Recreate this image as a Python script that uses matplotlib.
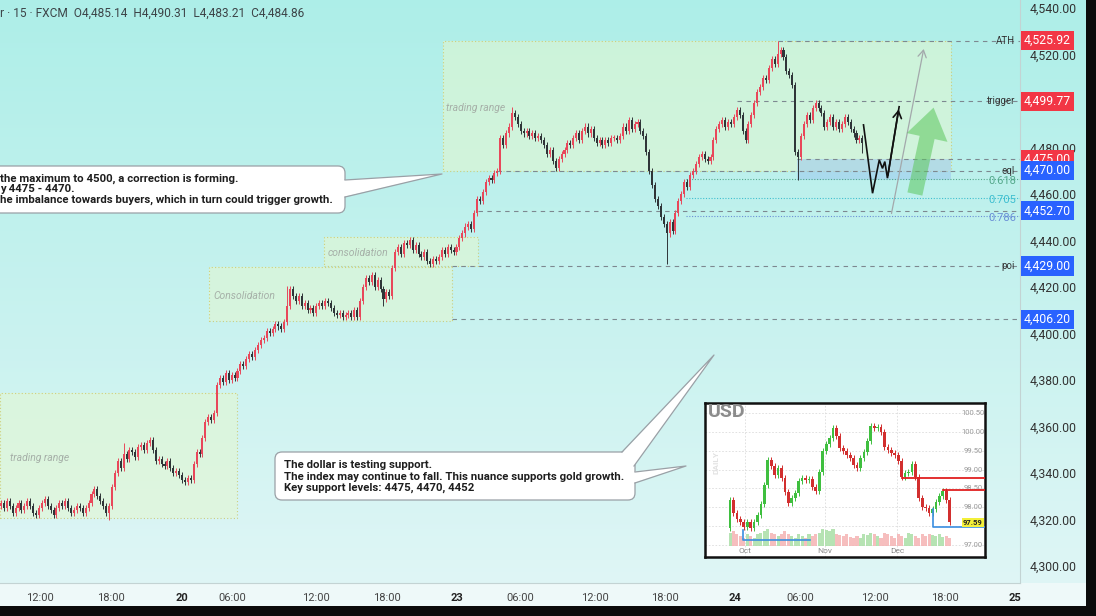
import numpy as np
import matplotlib
matplotlib.use('Agg')
import matplotlib.pyplot as plt
from matplotlib.patches import Rectangle, FancyBboxPatch, Polygon
import matplotlib.transforms as mtransforms

plt.rcParams['font.family'] = ['Roboto', 'DejaVu Sans']

# ---------------- data: XAUUSD 15m ----------------
first_open = 4326.0
closes = [
    4327, 4325, 4328, 4326, 4323, 4325, 4327, 4324, 4326, 4328,
    4326, 4323, 4322, 4325, 4327, 4329, 4326, 4324, 4322, 4325,
    4327, 4326, 4328, 4325, 4323, 4324, 4326, 4325, 4323, 4325,
    4327, 4331, 4333, 4330, 4328, 4326, 4323, 4326, 4334, 4340,
    4345, 4342, 4348, 4346, 4350, 4349, 4347, 4351, 4352, 4350,
    4353, 4354, 4350, 4345, 4346, 4344, 4343, 4345, 4342, 4340,
    4341, 4339, 4337, 4336, 4338, 4337, 4344, 4349, 4348, 4355,
    4362, 4364, 4363, 4366, 4378, 4381, 4379, 4383, 4380, 4382,
    4381, 4384, 4387, 4386, 4389, 4391, 4390, 4393, 4395, 4397,
    4398, 4401, 4400, 4402, 4404, 4403, 4402, 4405, 4412, 4419,
    4416, 4414, 4416, 4412, 4413, 4410, 4411, 4409, 4412, 4413,
    4412, 4414, 4413, 4411, 4409, 4408, 4409, 4407, 4408, 4409,
    4407, 4410, 4407, 4414, 4420, 4424, 4422, 4425, 4420, 4423,
    4419, 4415, 4418, 4416, 4428, 4435, 4437, 4434, 4439, 4438,
    4440, 4436, 4438, 4434, 4433, 4435, 4431, 4430, 4432, 4431,
    4433, 4436, 4434, 4437, 4436, 4435, 4437, 4441, 4443, 4446,
    4447, 4445, 4452, 4458, 4457, 4461, 4465, 4467, 4466, 4469,
    4470, 4484, 4481, 4486, 4489, 4495, 4493, 4490, 4487, 4486,
    4487, 4485, 4486, 4484, 4485, 4483, 4481, 4477, 4479, 4474,
    4471, 4475, 4477, 4479, 4482, 4481, 4484, 4486, 4483, 4487,
    4489, 4486, 4488, 4484, 4482, 4483, 4481, 4483, 4482, 4484,
    4484, 4483, 4485, 4489, 4487, 4492, 4488, 4490, 4491, 4487,
    4485, 4478, 4470, 4464, 4458, 4455, 4450, 4447, 4443, 4448,
    4444, 4452, 4457, 4460, 4465, 4463, 4468, 4470, 4473, 4476,
    4477, 4475, 4474, 4476, 4483, 4488, 4490, 4492, 4489, 4491,
    4490, 4493, 4496, 4494, 4487, 4483, 4490, 4494, 4499, 4504,
    4506, 4510, 4509, 4514, 4518, 4516, 4520, 4522, 4519, 4513,
    4511, 4507, 4478, 4476, 4485, 4490, 4494, 4492, 4497, 4499,
    4497, 4495, 4489, 4491, 4493, 4489, 4491, 4488, 4490, 4493,
    4491, 4488, 4486, 4483, 4484, 4482,
]
wick_highs = {42: 4353.0, 98: 4420.5, 175: 4497.5, 266: 4525.92}
wick_lows = {37: 4320.0, 131: 4412.0, 228: 4430.0, 273: 4466.0, 295: 4477.6}

tick_pos = [13.4, 37.7, 62.0, 79.1, 107.9, 132.2, 156.2, 177.7, 203.4, 227.4,
            251.4, 273.6, 299.3, 323.3, 347.3]
tick_labels = ['12:00', '18:00', '20', '06:00', '12:00', '18:00', '23', '06:00',
               '12:00', '18:00', '24', '06:00', '12:00', '18:00', '25']
bold_ticks = {'20', '23', '24', '25'}
# 4,500.00 sits fully behind the "trigger" price tag in the reference
y_ticks = [4300, 4320, 4340, 4360, 4380, 4400, 4420, 4440, 4460, 4480, 4520, 4540]

# level lines: (price, start bar, name)
level_prices = [4525.92, 4499.77, 4475.00, 4470.00, 4452.70, 4429.00, 4406.20]
level_starts = [266, 252, 272.6, 170, 163.4, 154.5, 154.5]
level_names = ['ATH', 'trigger', '', 'eql', '', 'poi', '']
level_tag_colors = ['#f23645', '#f23645', '#f23645', '#2962ff', '#2962ff', '#2962ff', '#2962ff']

fib_labels = ['0.618', '0.705', '0.786']
fib_prices = [4466.6, 4458.3, 4450.5]
fib_start = 234.5
fib_colors = ['#55a98c', '#3fbfd0', '#6a8fd6']

# zones
zone_x0 = [-0.34, 71.2, 110.6, 151.4]
zone_x1 = [80.8, 154.5, 163.4, 325.3]
zone_y0 = [4320.6, 4405.4, 4429.0, 4469.9]
zone_y1 = [4374.4, 4428.6, 4441.5, 4525.8]
zone_labels = ['trading range', 'Consolidation', 'consolidation', 'trading range']
zone_label_x = [3.1, 72.6, 112.0, 152.4]
zone_label_y = [4346.5, 4416.1, 4434.6, 4497.0]
blue_zone = (272.6, 325.3, 4466.0, 4475.0)

# projected path
path_x = [295.4, 298.5, 300.8, 301.9, 302.7, 303.6, 307.6]
path_y = [4489.7, 4460.3, 4474.6, 4471.0, 4473.9, 4466.8, 4497.5]
gray_arrow = ((304.8, 4450.4), (316.2, 4523.5))
green_arrow = ((312.8, 4458.8), (319.6, 4498.3))

# ---------------- inset data: USD index daily ----------------
usd_first_open = 97.45
usd_closes = [98.20, 97.85, 97.70, 97.60, 97.48, 97.60, 97.45, 97.62, 97.80, 98.10,
              98.60, 99.25, 99.10, 98.85, 99.05, 98.78, 98.40, 98.12, 98.25, 98.38,
              98.70, 98.78, 98.72, 98.75, 98.55, 98.42, 98.95, 99.50, 99.68, 99.85,
              100.10, 99.90, 99.58, 99.50, 99.38, 99.30, 99.12, 99.05, 99.30, 99.48,
              99.75, 100.15, 100.10, 100.12, 100.00, 99.60, 99.52, 99.45, 99.38, 99.22,
              98.80, 98.90, 98.95, 99.15, 98.80, 98.25, 98.00, 97.98, 97.85, 97.95,
              98.15, 98.30, 98.42, 98.20, 97.62]
usd_vol = [0.35, 0.40, 0.30, 0.25, 0.20, 0.30, 0.25, 0.20, 0.30, 0.35,
           0.40, 0.45, 0.35, 0.30, 0.25, 0.30, 0.40, 0.30, 0.25, 0.20,
           0.30, 0.25, 0.20, 0.30, 0.25, 0.30, 0.35, 0.45, 0.42, 0.40,
           0.45, 0.30, 0.28, 0.25, 0.30, 0.22, 0.20, 0.25, 0.20, 0.30,
           0.28, 0.35, 0.30, 0.25, 0.20, 0.35, 0.30, 0.25, 0.20, 0.30,
           0.25, 0.20, 0.35, 0.30, 0.25, 0.20, 0.30, 0.25, 0.32, 0.28,
           0.25, 0.30, 0.22, 0.25, 0.20]
# 97.50 is hidden behind the 97.59 price tag in the reference
usd_ticks = [97.00, 98.00, 98.50, 99.00, 99.50, 100.00, 100.50]
usd_grid = [97.00, 97.50, 98.00, 98.50, 99.00, 99.50, 100.00, 100.50]
usd_months = ['Oct', 'Nov', 'Dec']
usd_month_pos = [4.4, 27.7, 48.7]

# ---------------- figure ----------------
W, H = 1096, 616
fig = plt.figure(figsize=(W / 100, H / 100), dpi=100)

bg = fig.add_axes([0, 0, 1, 1], zorder=0)
bg.set_xlim(0, W); bg.set_ylim(H, 0); bg.axis('off')
g = np.linspace(0, 1, 256)[:, None, None]
top_c = np.array([0.68, 0.935, 0.91]); bot_c = np.array([0.885, 0.965, 0.965])
bg.imshow(top_c + (bot_c - top_c) * g, extent=[0, W, H, 0], aspect='auto')
bg.add_patch(Rectangle((0, 583), W, 23, color='#eef9f9', lw=0))

ax = fig.add_axes([0, (H - 583) / H, 1020 / W, 583 / H], zorder=1)
ax.patch.set_alpha(0)
ax.set_xlim(-0.34, 349)
ax.set_ylim(4292.7, 4543.4)

for x0, x1, y0, y1, lab, lx, ly in zip(zone_x0, zone_x1, zone_y0, zone_y1, zone_labels,
                                         zone_label_x, zone_label_y):
    ax.add_patch(Rectangle((x0, y0), x1 - x0, y1 - y0, facecolor='#e4f7cf', alpha=0.55,
                           edgecolor='none', zorder=1))
    ax.add_patch(Rectangle((x0, y0), x1 - x0, y1 - y0, facecolor='none',
                           edgecolor='#cfcf7a', lw=0.8, ls=(0, (1, 2)), zorder=1.1))
    ax.text(lx, ly, lab, fontsize=7.5, style='italic', color='#a6b0a8', va='center', zorder=1.2)
bx0, bx1, by0, by1 = blue_zone
ax.add_patch(Rectangle((bx0, by0), bx1 - bx0, by1 - by0, facecolor='#9cc8ef', alpha=0.55,
                       edgecolor='none', zorder=1.3))

for p, s in zip(level_prices, level_starts):
    ax.plot([s, 349], [p, p], color='#7d8890', lw=0.8, ls=(0, (4, 4)), zorder=1.5)
for p, c in zip(fib_prices, fib_colors):
    ax.plot([fib_start, 349], [p, p], color=c, lw=0.8, ls=(0, (1, 1.5)), zorder=1.5)

# candles
opens = [first_open] + closes[:-1]
xs = np.arange(len(closes))
highs, lows, cols, bottoms, heights = [], [], [], [], []
for i, (o, c) in enumerate(zip(opens, closes)):
    hi = wick_highs.get(i, max(o, c) + 1.3)
    lo = wick_lows.get(i, min(o, c) - 1.3)
    highs.append(hi); lows.append(lo)
    cols.append('#e8475a' if c >= o else '#2f3538')
    bottoms.append(min(o, c)); heights.append(max(abs(c - o), 0.6))
ax.vlines(xs, lows, highs, colors=cols, lw=0.7, zorder=3)
ax.bar(xs, heights, bottom=bottoms, width=0.7, color=cols, linewidth=0, zorder=3.1)

ax.plot(path_x, path_y, color='#111111', lw=1.2, zorder=4, solid_joinstyle='miter')
ax.annotate('', xy=(path_x[-1], path_y[-1]), xytext=(path_x[-2], path_y[-2]),
            arrowprops=dict(arrowstyle='->,head_length=0.5,head_width=0.3', color='#111111', lw=1.2),
            zorder=4)
ax.annotate('', xy=gray_arrow[1], xytext=gray_arrow[0],
            arrowprops=dict(arrowstyle='->,head_length=0.5,head_width=0.3', color='#a3a8ab', lw=0.9),
            zorder=4)
ax.annotate('', xy=green_arrow[1], xytext=green_arrow[0],
            arrowprops=dict(arrowstyle='simple,head_length=1.1,head_width=1.5,tail_width=0.55',
                            fc='#5cc75c', ec='none', alpha=0.55, mutation_scale=20), zorder=4)

for sp in ['top', 'left']:
    ax.spines[sp].set_visible(False)
ax.spines['right'].set_color('#c3d3d3'); ax.spines['bottom'].set_color('#c3d3d3')
ax.yaxis.tick_right()
ax.set_yticks(y_ticks)
ax.set_yticklabels([f'{v:,.2f}' for v in y_ticks])
ax.tick_params(axis='y', length=0, pad=7, labelsize=8.8, labelcolor='#333333')
ax.set_xticks(tick_pos)
ax.set_xticklabels(tick_labels)
ax.tick_params(axis='x', length=0, pad=7, labelsize=8, labelcolor='#444444')
for t in ax.get_xticklabels():
    if t.get_text() in bold_ticks:
        t.set_fontweight('bold'); t.set_color('#222222')

blend = mtransforms.blended_transform_factory(ax.transAxes, ax.transData)
for p, name, tc in zip(level_prices, level_names, level_tag_colors):
    ax.text(1.0 + 4 / 1020, p, f'{p:,.2f}', transform=blend, fontsize=8.8, color='white',
            va='center', ha='left', clip_on=False, zorder=6,
            bbox=dict(boxstyle='square,pad=0.25', fc=tc, ec='none'))
    if name:
        ax.text(1 - 5 / 1020, p, name, transform=blend, fontsize=7, color='#333333',
                va='center', ha='right', zorder=6)
for p, lab, c in zip(fib_prices, fib_labels, fib_colors):
    ax.text(1 - 4 / 1020, p - 1.0, lab, transform=blend, fontsize=8, color=c,
            va='center', ha='right', zorder=6)

# ---------------- overlay (pixel coords) ----------------
ov = fig.add_axes([0, 0, 1, 1], zorder=2)
ov.set_xlim(0, W); ov.set_ylim(H, 0); ov.axis('off'); ov.patch.set_alpha(0)

ov.text(0, 13, 'r \u00b7 15 \u00b7 FXCM  O4,485.14  H4,490.31  L4,483.21  C4,484.86',
        fontsize=8.6, color='#3d4448', va='center', ha='left')

edge = '#9aa0a6'
ov.add_patch(FancyBboxPatch((-20, 166), 365, 47, boxstyle='round,pad=0,rounding_size=7',
                            fc='white', ec=edge, lw=0.9, zorder=2))
ov.add_patch(Polygon([(343, 180), (442, 174), (343, 197)], closed=True, fc='white', ec='none', zorder=2.1))
ov.plot([345, 442, 345], [180, 174, 197], color=edge, lw=0.9, zorder=2.2)
txt1 = ['the maximum to 4500, a correction is forming.',
        'y 4475 - 4470.',
        'he imbalance towards buyers, which in turn could trigger growth.']
for tx, yy in zip(txt1, [179, 189.5, 200]):
    ov.text(0.5, yy, tx, fontsize=8.2, fontweight='bold', color='#1e1e1e', va='center', zorder=3)

ov.add_patch(FancyBboxPatch((275, 452), 360, 48, boxstyle='round,pad=0,rounding_size=7',
                            fc='white', ec=edge, lw=0.9, zorder=2))
ov.add_patch(Polygon([(622, 453), (714, 355), (634, 466)], closed=True, fc='white', ec='none', zorder=2.1))
ov.plot([622, 714, 634], [452, 355, 466], color=edge, lw=0.9, zorder=2.2)
ov.add_patch(Polygon([(633, 472), (686, 466), (633, 483)], closed=True, fc='white', ec='none', zorder=2.1))
ov.plot([635, 686, 635], [472, 466, 483], color=edge, lw=0.9, zorder=2.2)
txt2 = ['The dollar is testing support.',
        'The index may continue to fall. This nuance supports gold growth.',
        'Key support levels: 4475, 4470, 4452']
for tx, yy in zip(txt2, [465, 476.5, 488]):
    ov.text(284, yy, tx, fontsize=8.2, fontweight='bold', color='#1e1e1e', va='center', zorder=3)

ov.add_patch(Rectangle((1086, 0), 10, H, color='#0b0b0b', lw=0, zorder=5))
ov.add_patch(Rectangle((0, 606), W, 10, color='#0b0b0b', lw=0, zorder=5))

# ---------------- inset ----------------
ins = fig.add_axes([705 / W, (H - 557) / H, 280 / W, 154 / H], zorder=3)
ins.set_facecolor('white')
ins.set_xlim(-7.3, 74.3); ins.set_ylim(96.68, 100.77)
ins.set_xticks([]); ins.set_yticks([])
for sp in ins.spines.values():
    sp.set_color('#111111'); sp.set_linewidth(1.8)
for v in usd_grid:
    ins.axhline(v, color='#dcdcdc', lw=0.6, ls=(0, (2, 2)), zorder=0.5)
for v in usd_ticks:
    ins.text(70.8, v, f'{v:.2f}', fontsize=5.5, color='#9a9a9a', ha='center', va='center', zorder=1)
for mp, ml in zip(usd_month_pos, usd_months):
    ins.axvline(mp, color='#dcdcdc', lw=0.6, ls=(0, (2, 2)), zorder=0.5)
    ins.text(mp, 96.84, ml, fontsize=6, color='#8a8a8a', ha='center', va='center')
u_opens = [usd_first_open] + usd_closes[:-1]
ux = np.arange(len(usd_closes))
ucol = ['#3fbf3f' if c >= o else '#d22f2f' for o, c in zip(u_opens, usd_closes)]
vcol = ['#a9dfa6' if c >= o else '#f5b3b3' for o, c in zip(u_opens, usd_closes)]
ins.bar(ux, usd_vol, bottom=96.98, width=0.9, color=vcol, alpha=0.85, lw=0, zorder=1)
uh = [max(o, c) + 0.08 for o, c in zip(u_opens, usd_closes)]
ul = [min(o, c) - 0.08 for o, c in zip(u_opens, usd_closes)]
ins.vlines(ux, ul, uh, colors=ucol, lw=0.7, zorder=2)
ins.bar(ux, [max(abs(c - o), 0.03) for o, c in zip(u_opens, usd_closes)],
        bottom=[min(o, c) for o, c in zip(u_opens, usd_closes)], width=0.8, color=ucol,
        lw=0, zorder=2.1)
ins.plot([50.1, 74.3], [98.77, 98.77], color='#e02020', lw=1.3, zorder=3)
ins.plot([62.0, 74.3], [98.45, 98.45], color='#e02020', lw=1.3, zorder=3)
ins.plot([3.8, 3.8, 23.3], [97.40, 97.12, 97.12], color='#3a8ee0', lw=1.2, zorder=3)
ins.plot([59.2, 59.2, 74.3], [97.95, 97.48, 97.48], color='#3a8ee0', lw=1.2, zorder=3)
ins.text(70.8, 97.59, '97.59', fontsize=5.5, fontweight='bold', color='#222222', ha='center',
         va='center', zorder=4, bbox=dict(boxstyle='square,pad=0.15', fc='#f3f03a', ec='none'))
ins.text(-6.6, 100.52, 'USD', fontsize=14, fontweight='bold', color='#8c8c8c', va='center', ha='left', zorder=4)
ins.text(-4.2, 99.2, 'DAILY', fontsize=6, fontweight='bold', color='#e2e2e2', rotation=90,
         va='center', ha='center', zorder=0.8)

fig.savefig('out.png', dpi=100)
